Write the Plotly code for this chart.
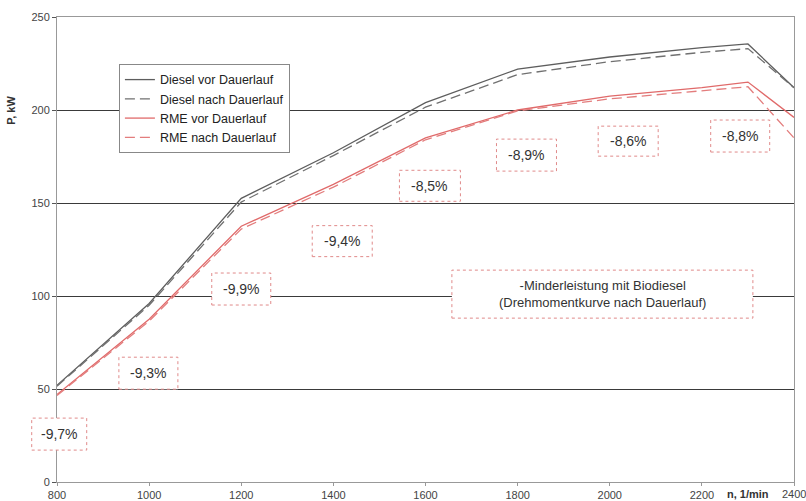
import plotly.graph_objects as go

# Engine speed, 1/min
rpm = [800, 1000, 1200, 1400, 1600, 1800, 2000, 2200, 2300, 2400]

# Power output, kW
diesel_vor = [52, 96, 152.5, 177, 204, 222, 228.5, 233.5, 235.5, 212]
diesel_nach = [51.5, 95, 150.5, 175.5, 201.5, 219, 226, 231, 233, 212]
rme_vor = [47, 87.5, 137.5, 160, 185, 200, 207.5, 212, 215, 196]
rme_nach = [46.5, 86.5, 136, 158.5, 184, 199.5, 206, 210.5, 212.5, 185]

series_names = ["Diesel vor Dauerlauf", "Diesel nach Dauerlauf",
                "RME vor Dauerlauf", "RME nach Dauerlauf"]

# Axis ticks
x_ticks = [800, 1000, 1200, 1400, 1600, 1800, 2000, 2200, 2400]
y_ticks = [0, 50, 100, 150, 200, 250]

# Power loss with biodiesel
pct_labels = ["-9,7%", "-9,3%", "-9,9%", "-9,4%", "-8,5%", "-8,9%", "-8,6%", "-8,8%"]
note_text = "-Minderleistung mit Biodiesel<br>(Drehmomentkurve nach Dauerlauf)"

FONT = "Liberation Sans, Arial, sans-serif"
GRAY = "#5e5e5e"
GRAY_D = "#707070"
RED = "#e06a6a"
RED_D = "#e37d7d"
BOX_RED = "#e08a8a"

fig = go.Figure()
styles = [
    (diesel_vor, GRAY, "solid"),
    (diesel_nach, GRAY_D, "10px,5px"),
    (rme_vor, RED, "solid"),
    (rme_nach, RED_D, "10px,5px"),
]
for name, (vals, col, dash) in zip(series_names, styles):
    fig.add_trace(go.Scatter(
        x=rpm, y=vals, name=name, mode="lines",
        line=dict(color=col, width=1.3, dash=dash),
        hoverinfo="skip",
    ))

# Label placement (paper fractions of the plot area) and box sizes in px
pct_place = [
    (0.003, 0.103, 55, 32),
    (0.124, 0.234, 59, 32),
    (0.250, 0.415, 59, 32),
    (0.387, 0.518, 60, 31),
    (0.506, 0.637, 61, 31),
    (0.637, 0.703, 60, 32),
    (0.775, 0.733, 60, 30),
    (0.927, 0.744, 59, 32),
]

shapes = []
annotations = []
for text, (px, py, w, h) in zip(pct_labels, pct_place):
    shapes.append(dict(
        type="rect", xref="paper", yref="paper",
        xsizemode="pixel", ysizemode="pixel",
        xanchor=px, yanchor=py,
        x0=-w / 2, x1=w / 2, y0=-h / 2, y1=h / 2,
        line=dict(color=BOX_RED, width=1, dash="dot"),
        fillcolor="white", layer="above",
    ))
    annotations.append(dict(
        x=px, y=py, xref="paper", yref="paper", text=text,
        xanchor="center", yanchor="middle",
        showarrow=False, font=dict(family=FONT, size=14, color="#333"),
    ))

# Explanatory note box
nx, ny, nw, nh = 0.740, 0.404, 301, 48
shapes.append(dict(
    type="rect", xref="paper", yref="paper",
    xsizemode="pixel", ysizemode="pixel",
    xanchor=nx, yanchor=ny,
    x0=-nw / 2, x1=nw / 2, y0=-nh / 2, y1=nh / 2,
    line=dict(color=BOX_RED, width=1, dash="dot"),
    fillcolor="white", layer="above",
))
annotations.append(dict(
    x=nx, y=ny, xref="paper", yref="paper", text=note_text,
    xanchor="center", yanchor="middle",
    showarrow=False, align="center",
    font=dict(family=FONT, size=13, color="#333"),
))

# Axis titles
annotations.append(dict(
    x=-0.052, y=0.80, xref="paper", yref="paper", text="<b>P, kW</b>",
    xanchor="right", yanchor="middle",
    textangle=-90, showarrow=False,
    font=dict(family=FONT, size=11, color="#333"),
))
annotations.append(dict(
    x=0.938, y=0, xref="paper", yref="paper", yshift=-4,
    xanchor="center", yanchor="top", text="<b>n, 1/min</b>",
    showarrow=False, font=dict(family=FONT, size=11, color="#333"),
))
# Last tick label sits on the right edge of the page
annotations.append(dict(
    x=x_ticks[-1], y=0, xref="x", yref="paper", yshift=-4,
    xanchor="center", yanchor="top", text=str(x_ticks[-1]),
    showarrow=False, font=dict(family=FONT, size=11, color="#444"),
))

fig.update_layout(
    template="none",
    width=806, height=501,
    margin=dict(l=57, r=12, t=17, b=19, autoexpand=False),
    paper_bgcolor="white", plot_bgcolor="white",
    font=dict(family=FONT, size=11, color="#444"),
    showlegend=True,
    legend=dict(
        x=0.084, y=0.899, xanchor="left", yanchor="top",
        bgcolor="white", bordercolor="#888", borderwidth=1,
        font=dict(family=FONT, size=12.5, color="#222"),
        tracegroupgap=0, itemwidth=30,
    ),
    shapes=shapes,
    annotations=annotations,
)

fig.update_xaxes(
    automargin=False,
    range=[x_ticks[0], x_ticks[-1]], tickvals=x_ticks,
    showgrid=False, zeroline=False,
    showline=True, linecolor="#999", linewidth=1, mirror=True,
    ticks="outside", ticklen=3, tickcolor="#999",
    tickfont=dict(family=FONT, size=11, color="#444"),
)
fig.update_yaxes(
    automargin=False,
    range=[y_ticks[0], y_ticks[-1]], tickvals=y_ticks,
    showgrid=True, gridcolor="#3a3a3a", gridwidth=1, zeroline=False,
    showline=True, linecolor="#999", linewidth=1, mirror=True,
    ticks="outside", ticklen=4, tickcolor="#555",
    tickfont=dict(family=FONT, size=11, color="#444"),
)

fig.write_html("out.html")
